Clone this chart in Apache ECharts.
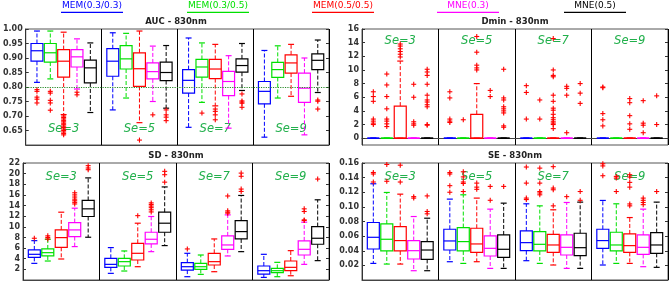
<!DOCTYPE html>
<html>
<head>
<meta charset="utf-8">
<script src="https://cdn.jsdelivr.net/npm/echarts@6/dist/echarts.min.js"></script>
<style>
  html, body { margin: 0; padding: 0; background: #fff; }
  #chart { width: 669px; height: 282px; }
</style>
</head>
<body>
<div id="chart"></div>
<script>
const METHODS = ['MEM(0.3/0.3)', 'MEM(0.3/0.5)', 'MEM(0.5/0.5)', 'MNE(0.3)', 'MNE(0.5)'];
const COLORS = ['#0000ff', '#00e000', '#ff0000', '#ff00ff', '#000000'];
const SE_GROUPS = ['Se=3', 'Se=5', 'Se=7', 'Se=9'];

// tick labels
const AUC_TICKS = [0.65, 0.70, 0.75, 0.80, 0.85, 0.90, 0.95, 1.00];
const DMIN_TICKS = [0, 2, 4, 6, 8, 10, 12, 14, 16];
const SD_TICKS = [2, 4, 6, 8, 10, 12, 14, 16, 18, 20, 22];
const SE_TICKS = [0.02, 0.04, 0.06, 0.08, 0.10, 0.12, 0.14, 0.16];
const AUC_REF = 0.80;

// boxes: [lower whisker, q1, median, q3, upper whisker] for Se=3,5,7,9
const AUC_MEM33 = [[0.816,0.889,0.925,0.950,0.993],[0.721,0.837,0.889,0.932,0.987],[0.661,0.779,0.823,0.860,0.969],[0.627,0.742,0.785,0.819,0.926]];
const AUC_MEM35 = [[0.828,0.886,0.918,0.950,0.993],[0.762,0.862,0.897,0.943,0.985],[0.747,0.834,0.869,0.895,0.952],[0.762,0.833,0.860,0.885,0.942]];
const AUC_MEM55 = [[0.705,0.834,0.889,0.929,0.989],[0.677,0.802,0.863,0.918,0.993],[0.735,0.829,0.862,0.895,0.947],[0.768,0.848,0.883,0.911,0.947]];
const AUC_MNE3 = [[0.793,0.869,0.904,0.929,0.966],[0.750,0.828,0.853,0.883,0.941],[0.658,0.770,0.819,0.854,0.908],[0.635,0.747,0.796,0.848,0.900]];
const AUC_MNE5 = [[0.712,0.814,0.866,0.893,0.952],[0.727,0.822,0.850,0.886,0.943],[0.788,0.851,0.874,0.897,0.950],[0.781,0.860,0.892,0.914,0.962]];

const AUC_MEM33_OUT = [[0.791,0.785,0.765,0.758,0.745],[],[],[]];
const AUC_MEM35_OUT = [[0.785,0.779,0.754,0.745,0.720],[],[0.710],[]];
const AUC_MEM55_OUT = [[0.700,0.695,0.690,0.685,0.680,0.675,0.670,0.665,0.660,0.655,0.650,0.645,0.640,0.635],[0.617],[0.724,0.716,0.704,0.687],[]];
const AUC_MNE3_OUT = [[0.782,0.773],[0.704],[],[]];
const AUC_MNE5_OUT = [[],[0.721,0.704,0.696,0.684],[0.776,0.752,0.748,0.744,0.730],[0.755,0.751,0.724]];

const DMIN_MEM33 = [[0,0,0,0,0],[0,0,0,0,0],[0,0,0,0,0],[0,0,0,0,0]];
const DMIN_MEM35 = [[0,0,0,0,0],[0,0,0,0,0],[0,0,0,0,0],[0,0,0,0,0]];
const DMIN_MEM55 = [[0,0,0,4.7,11.3],[0,0,0,3.5,8.0],[0,0,0,0,0],[0,0,0,0,0]];
const DMIN_MNE3 = [[0,0,0,0,0],[0,0,0,0,0],[0,0,0,0,0],[0,0,0,0,0]];
const DMIN_MNE5 = [[0,0,0,0,0],[0,0,0,0,0],[0,0,0,0,0],[0,0,0,0,0]];

const DMIN_MEM33_OUT = [[6.8,6.1,5.4,2.8,2.5,2.2,2.0],[6.8,5.9,2.8,2.5,2.3],[7.7,6.7,2.8],[7.5,7.4,3.6,2.7,1.8]];
const DMIN_MEM35_OUT = [[9.4,7.8,6.1,4.3,2.8,2.5,2.1,1.7],[2.7],[5.6,2.8],[]];
const DMIN_MEM55_OUT = [[13.8,13.5,13.1,12.7,12.3,11.9],[14.9,12.6,10.7,10.3,10.0],[14.6,10.0,9.2,9.0,6.3,5.4,4.4,4.1,3.5,3.0,2.7,2.4,2.2,2.0,1.4],[5.8,5.2,3.3,2.1,1.3]];
const DMIN_MNE3_OUT = [[7.9,6.0,2.4,2.1,1.9],[7.0,6.1],[7.6,7.3,6.3,0.8],[5.5,2.2,1.9,0.8]];
const DMIN_MNE5_OUT = [[10.1,9.7,9.2,7.9,6.3,5.6,5.3,4.9,4.6,2.0,1.9],[10.1,5.9,5.6,4.6,4.3,4.0,3.7,1.8,1.6],[8.0,6.6,5.1],[6.2,2.0]];

const SD_MEM33 = [[3.13,4.26,4.83,5.65,7.40],[1.25,2.38,2.94,4.07,6.09],[0.62,1.87,2.50,3.26,5.02],[0.49,1.12,1.75,2.63,4.83]];
const SD_MEM35 = [[3.57,4.52,5.14,5.84,7.66],[1.69,2.63,3.45,4.07,5.46],[1.06,2.00,2.50,3.13,4.70],[0.62,1.37,1.75,2.19,3.32]];
const SD_MEM55 = [[3.95,6.15,7.97,9.42,12.75],[2.50,3.76,5.02,6.90,10.68],[1.56,2.82,3.45,5.02,7.72],[0.80,1.75,2.38,3.57,5.52]];
const SD_MNE3 = [[6.28,8.16,9.42,10.80,13.50],[5.33,6.78,7.66,8.98,11.94],[4.52,5.77,6.59,8.29,12.25],[2.94,4.70,5.77,7.35,10.87]];
const SD_MNE5 = [[8.04,11.94,13.38,14.96,19.20],[6.47,8.98,10.68,12.75,17.50],[5.33,7.72,9.10,11.18,15.90],[3.64,6.72,7.85,10.05,15.08]];

const SD_MEM33_OUT = [[7.85],[],[5.84],[]];
const SD_MEM35_OUT = [[8.3,8.0,7.7],[],[],[]];
const SD_MEM55_OUT = [[],[12.1],[],[]];
const SD_MNE3_OUT = [[16.4,16.0,15.6,15.2,14.9,14.6,14.3],[14.5,14.2,13.9,13.6,13.2,12.8],[15.8,13.0,12.75,12.57],[13.38,12.88,11.3,11.2]];
const SD_MNE5_OUT = [[21.5,21.06,20.74],[20.43,19.8,18.4],[20.1,19.5,17.1,16.65],[18.98]];

const SE_MEM33 = [[0.0227,0.0424,0.0584,0.0786,0.1316],[0.0250,0.0410,0.0534,0.0694,0.1106],[0.0264,0.0401,0.0511,0.0671,0.1042],[0.0205,0.0433,0.0539,0.0694,0.1088]];
const SE_MEM35 = [[0.0218,0.0397,0.0557,0.0767,0.1197],[0.0227,0.0397,0.0525,0.0717,0.1165],[0.0227,0.0397,0.0488,0.0662,0.1014],[0.0227,0.0397,0.0479,0.0653,0.1042]];
const SE_MEM55 = [[0.0218,0.0397,0.0539,0.0731,0.1174],[0.0250,0.0378,0.0493,0.0708,0.1120],[0.0205,0.0378,0.0479,0.0625,0.0960],[0.0227,0.0378,0.0470,0.0630,0.0854]];
const SE_MNE3 = [[0.0127,0.0287,0.0401,0.0539,0.0868],[0.0159,0.0328,0.0433,0.0603,0.0969],[0.0159,0.0342,0.0447,0.0616,0.1060],[0.0182,0.0351,0.0447,0.0616,0.0969]];
const SE_MNE5 = [[0.0127,0.0282,0.0410,0.0525,0.0845],[0.0159,0.0310,0.0420,0.0616,0.1051],[0.0159,0.0333,0.0442,0.0639,0.1065],[0.0173,0.0365,0.0479,0.0648,0.1065]];

const SE_MEM33_OUT = [[0.147,0.145,0.134],[0.147,0.145,0.129,0.120],[0.1545,0.1325,0.112,0.110],[0.159,0.156,0.1426]];
const SE_MEM35_OUT = [[0.158,0.135],[0.148,0.141,0.134,0.132,0.121],[0.153,0.1325,0.121,0.119,0.1165],[0.1417,0.1394,0.121]];
const SE_MEM55_OUT = [[0.157,0.134],[0.1325,0.127,0.124],[0.155,0.1257,0.1234,0.1014],[0.144,0.1408,0.1335,0.127,0.104,0.1014]];
const SE_MNE3_OUT = [[0.114,0.112],[0.128,0.109],[0.114],[0.112,0.109,0.106,0.103]];
const SE_MNE5_OUT = [[0.115,0.0937,0.0905],[0.128],[0.121,0.109],[0.121]];

// layout
const FONT = 'DejaVu Sans';
const STEP = 0.176;   // box spacing, share of group width
const BOXW = 0.157;   // box width, share of group width
const LEGEND_X = [92, 218, 343, 468, 595];

const PANELS = [
  { title: 'AUC - 830nm', grid: { left: 23, top: 29, width: 306, height: 116 }, min: 0.6, max: 1.0,
    ticks: AUC_TICKS, digits: 2, labelY: 0.655,
    boxes: [AUC_MEM33, AUC_MEM35, AUC_MEM55, AUC_MNE3, AUC_MNE5],
    outs: [AUC_MEM33_OUT, AUC_MEM35_OUT, AUC_MEM55_OUT, AUC_MNE3_OUT, AUC_MNE5_OUT] },
  { title: 'Dmin - 830nm', grid: { left: 362, top: 29, width: 306, height: 116 }, min: -1, max: 16,
    ticks: DMIN_TICKS, digits: 0, labelY: 14.3,
    boxes: [DMIN_MEM33, DMIN_MEM35, DMIN_MEM55, DMIN_MNE3, DMIN_MNE5],
    outs: [DMIN_MEM33_OUT, DMIN_MEM35_OUT, DMIN_MEM55_OUT, DMIN_MNE3_OUT, DMIN_MNE5_OUT] },
  { title: 'SD - 830nm', grid: { left: 23, top: 163, width: 306, height: 117 }, min: 0, max: 22,
    ticks: SD_TICKS, digits: 0, labelY: 19.3,
    boxes: [SD_MEM33, SD_MEM35, SD_MEM55, SD_MNE3, SD_MNE5],
    outs: [SD_MEM33_OUT, SD_MEM35_OUT, SD_MEM55_OUT, SD_MNE3_OUT, SD_MNE5_OUT] },
  { title: 'SE - 830nm', grid: { left: 362, top: 163, width: 306, height: 117 }, min: 0, max: 0.16,
    ticks: SE_TICKS, digits: 2, labelY: 0.1415,
    boxes: [SE_MEM33, SE_MEM35, SE_MEM55, SE_MNE3, SE_MNE5],
    outs: [SE_MEM33_OUT, SE_MEM35_OUT, SE_MEM55_OUT, SE_MNE3_OUT, SE_MNE5_OUT] }
];

function boxRender(k, color) {
  return function (params, api) {
    const cat = api.value(0);
    const band = api.size([1, 0])[0];
    const x = api.coord([cat, 0])[0] + (k - 2) * band * STEP;
    const w = band * BOXW;
    const c = w / 4;
    const y = [1, 2, 3, 4, 5].map(i => api.coord([cat, api.value(i)])[1]);
    const dash = { stroke: color, lineWidth: 1, lineDash: [4, 2] };
    const solid = { stroke: color, lineWidth: 1.2 };
    return {
      type: 'group',
      children: [
        { type: 'line', shape: { x1: x, y1: y[3], x2: x, y2: y[4] }, style: dash },
        { type: 'line', shape: { x1: x, y1: y[1], x2: x, y2: y[0] }, style: dash },
        { type: 'line', shape: { x1: x - c, y1: y[4], x2: x + c, y2: y[4] }, style: solid },
        { type: 'line', shape: { x1: x - c, y1: y[0], x2: x + c, y2: y[0] }, style: solid },
        { type: 'rect', shape: { x: x - w / 2, y: y[3], width: w, height: y[1] - y[3] },
          style: { stroke: color, fill: null, lineWidth: 1.2 } },
        { type: 'line', shape: { x1: x - w / 2, y1: y[2], x2: x + w / 2, y2: y[2] }, style: solid }
      ]
    };
  };
}

function plusRender(k) {
  return function (params, api) {
    const band = api.size([1, 0])[0];
    const p = api.coord([api.value(0), api.value(1)]);
    const x = p[0] + (k - 2) * band * STEP;
    const s = 2.5;
    const st = { stroke: '#ff0000', lineWidth: 1.1 };
    return {
      type: 'group',
      children: [
        { type: 'line', shape: { x1: x - s, y1: p[1], x2: x + s, y2: p[1] }, style: st },
        { type: 'line', shape: { x1: x, y1: p[1] - s, x2: x, y2: p[1] + s }, style: st }
      ]
    };
  };
}

function labelRender(params, api) {
  const p = api.coord([api.value(0), api.value(1)]);
  return {
    type: 'text', x: p[0], y: p[1],
    style: { text: SE_GROUPS[params.dataIndex], fill: '#22b04c',
      font: 'italic 11.5px "' + FONT + '"', align: 'center', verticalAlign: 'middle' }
  };
}

const grids = [], xAxes = [], yAxes = [], titles = [], series = [];
PANELS.forEach((p, g) => {
  grids.push(Object.assign({ show: true, borderColor: '#555', borderWidth: 1, backgroundColor: 'transparent' }, p.grid));
  titles.push({
    text: p.title, left: p.grid.left + p.grid.width / 2, top: p.grid.top - 11.5, textAlign: 'center', padding: 0,
    textStyle: { fontSize: 8.5, fontWeight: 'bold', color: '#222', fontFamily: FONT }
  });
  xAxes.push({
    type: 'category', gridIndex: g, data: SE_GROUPS, boundaryGap: true,
    axisLine: { show: true, lineStyle: { color: '#444' } },
    axisTick: { show: false }, axisLabel: { show: false },
    splitLine: { show: true, interval: 0, lineStyle: { color: '#000', width: 1 } }
  });
  yAxes.push({
    type: 'value', gridIndex: g, min: p.min, max: p.max,
    axisLine: { show: true, lineStyle: { color: '#333' } },
    axisTick: { show: true, inside: true, length: 3, customValues: p.ticks, lineStyle: { color: '#333' } },
    axisLabel: { customValues: p.ticks, margin: 3, fontSize: 8, fontWeight: 'bold', color: '#333', fontFamily: FONT,
      formatter: v => v.toFixed(p.digits) },
    splitLine: { show: false }
  });
  yAxes.push({
    type: 'value', gridIndex: g, position: 'right', min: p.min, max: p.max,
    axisLine: { show: false },
    axisTick: { show: true, inside: true, length: 3, customValues: p.ticks, lineStyle: { color: '#333' } },
    axisLabel: { show: false }, splitLine: { show: false }
  });

  series.push({
    type: 'custom', xAxisIndex: g, yAxisIndex: 2 * g, z: 2, silent: true,
    data: SE_GROUPS.map((s, i) => [i, p.labelY]),
    renderItem: labelRender
  });
  p.boxes.forEach((arr, k) => {
    const s = {
      type: 'custom', name: METHODS[k], xAxisIndex: g, yAxisIndex: 2 * g, z: 3, silent: true,
      encode: { x: 0, y: [1, 2, 3, 4, 5] },
      data: arr.map((b, i) => [i].concat(b)),
      renderItem: boxRender(k, COLORS[k])
    };
    if (g === 0 && k === 0) {
      s.markLine = {
        silent: true, symbol: 'none', label: { show: false }, animation: false,
        lineStyle: { type: 'dotted', color: '#2a8a2a', width: 1.2 },
        data: [{ yAxis: AUC_REF }]
      };
    }
    series.push(s);
  });
  p.outs.forEach((arr, k) => {
    const data = [];
    arr.forEach((vals, i) => vals.forEach(v => data.push([i, v])));
    series.push({
      type: 'custom', xAxisIndex: g, yAxisIndex: 2 * g, z: 4, silent: true,
      data: data, renderItem: plusRender(k)
    });
  });
});

// legend: coloured labels with underline
const graphic = [];
METHODS.forEach((m, i) => {
  graphic.push({
    type: 'text', x: LEGEND_X[i], y: 5.5,
    style: { text: m, fill: COLORS[i], font: '9px "' + FONT + '"', align: 'center', verticalAlign: 'middle' }
  });
  graphic.push({
    type: 'line', shape: { x1: LEGEND_X[i] - 31, y1: 12.3, x2: LEGEND_X[i] + 31, y2: 12.3 },
    style: { stroke: COLORS[i], lineWidth: 1.3 }
  });
});

const chart = echarts.init(document.getElementById('chart'));
chart.setOption({
  animation: false,
  backgroundColor: '#fff',
  title: titles,
  grid: grids,
  xAxis: xAxes,
  yAxis: yAxes,
  graphic: graphic,
  series: series
});
</script>
</body>
</html>
